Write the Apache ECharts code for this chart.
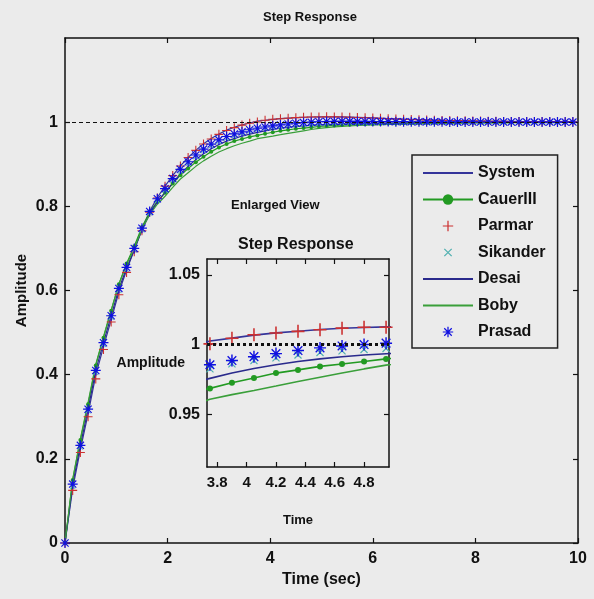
<!DOCTYPE html>
<html>
<head>
<meta charset="utf-8">
<script src="https://cdn.jsdelivr.net/npm/echarts@6/dist/echarts.min.js"></script>
<style>
  html, body { margin: 0; padding: 0; background: #ebebeb; }
  #main { width: 594px; height: 599px; }
</style>
</head>
<body>
<div id="main"></div>
<script>
// time grid (sec)
var time = [0, 0.15, 0.3, 0.45, 0.6, 0.75, 0.9, 1.05, 1.2, 1.35, 1.5, 1.65, 1.8, 1.95, 2.1, 2.25, 2.4, 2.55, 2.7, 2.85,
    3, 3.15, 3.3, 3.45, 3.6, 3.75, 3.9, 4.05, 4.2, 4.35, 4.5, 4.65, 4.8, 4.95, 5.1, 5.25, 5.4, 5.55, 5.7, 5.85,
    6, 6.15, 6.3, 6.45, 6.6, 6.75, 6.9, 7.05, 7.2, 7.35, 7.5, 7.65, 7.8, 7.95, 8.1, 8.25, 8.4, 8.55, 8.7, 8.85,
    9, 9.15, 9.3, 9.45, 9.6, 9.75, 9.9];

var system = [0, 0.13, 0.222, 0.307, 0.399, 0.466, 0.53, 0.596, 0.648, 0.696, 0.745, 0.788, 0.821, 0.848, 0.873, 0.896, 0.916, 0.933, 0.949, 0.961,
    0.972, 0.981, 0.988, 0.9935, 0.998, 1.0026, 1.0046, 1.0068, 1.0084, 1.0096, 1.0108, 1.0117, 1.0123, 1.0127, 1.0128, 1.0127, 1.0124, 1.012, 1.0114, 1.0107,
    1.01, 1.0093, 1.0086, 1.0079, 1.0072, 1.0066, 1.006, 1.0054, 1.0049, 1.0044, 1.004, 1.0036, 1.0032, 1.0029, 1.0026, 1.0023, 1.0021, 1.0019, 1.0017, 1.0015,
    1.0013, 1.0012, 1.0011, 1.001, 1.0009, 1.0008, 1.0007];
var cauer = [0, 0.15, 0.245, 0.33, 0.422, 0.488, 0.552, 0.615, 0.664, 0.705, 0.751, 0.786, 0.812, 0.832, 0.854, 0.874, 0.89, 0.905, 0.918, 0.93,
    0.94, 0.948, 0.955, 0.96, 0.965, 0.9685, 0.9725, 0.976, 0.9795, 0.9818, 0.9843, 0.986, 0.9878, 0.9897, 0.991, 0.9922, 0.9932, 0.994, 0.9947, 0.9953,
    0.9958, 0.9962, 0.9966, 0.9969, 0.9972, 0.9975, 0.9977, 0.9979, 0.9981, 0.9983, 0.9984, 0.9986, 0.9987, 0.9988, 0.9989, 0.999, 0.9991, 0.9991, 0.9992, 0.9993,
    0.9993, 0.9994, 0.9994, 0.9995, 0.9995, 0.9995, 0.9996];
var parmar = [0, 0.125, 0.215, 0.3, 0.39, 0.46, 0.525, 0.59, 0.643, 0.692, 0.742, 0.786, 0.82, 0.848, 0.873, 0.896, 0.916, 0.933, 0.948, 0.96,
    0.971, 0.98, 0.987, 0.993, 0.9975, 1.0005, 1.0046, 1.007, 1.0083, 1.0095, 1.0107, 1.0118, 1.0124, 1.0124, 1.0126, 1.0125, 1.0122, 1.0118, 1.0112, 1.0105,
    1.0098, 1.0091, 1.0084, 1.0077, 1.007, 1.0064, 1.0058, 1.0052, 1.0047, 1.0042, 1.0038, 1.0034, 1.0031, 1.0028, 1.0025, 1.0022, 1.002, 1.0018, 1.0016, 1.0014,
    1.0013, 1.0012, 1.0011, 1.001, 1.0009, 1.0008, 1.0007];
var sikander = [0, 0.135, 0.228, 0.314, 0.405, 0.472, 0.536, 0.6, 0.65, 0.696, 0.744, 0.784, 0.814, 0.838, 0.862, 0.884, 0.902, 0.918, 0.932, 0.944,
    0.954, 0.962, 0.968, 0.974, 0.979, 0.9825, 0.9862, 0.9885, 0.9905, 0.9925, 0.9943, 0.9955, 0.9965, 0.9972, 0.9978, 0.9983, 0.9987, 0.999, 0.9992, 0.9994,
    0.9995, 0.9996, 0.9996, 0.9997, 0.9997, 0.9997, 0.9998, 0.9998, 0.9998, 0.9998, 0.9999, 0.9999, 0.9999, 0.9999, 0.9999, 0.9999, 1, 1, 1, 1,
    1, 1, 1, 1, 1, 1, 1];
var desai = [0, 0.14, 0.232, 0.318, 0.41, 0.476, 0.54, 0.604, 0.653, 0.697, 0.744, 0.782, 0.81, 0.833, 0.856, 0.877, 0.895, 0.911, 0.925, 0.937,
    0.947, 0.955, 0.961, 0.967, 0.9715, 0.9757, 0.9795, 0.9828, 0.9855, 0.9878, 0.9897, 0.9912, 0.9925, 0.9934, 0.9942, 0.9949, 0.9955, 0.996, 0.9965, 0.9969,
    0.9972, 0.9975, 0.9978, 0.998, 0.9982, 0.9984, 0.9986, 0.9987, 0.9988, 0.9989, 0.999, 0.9991, 0.9992, 0.9993, 0.9993, 0.9994, 0.9994, 0.9995, 0.9995, 0.9996,
    0.9996, 0.9996, 0.9997, 0.9997, 0.9997, 0.9998, 0.9998];
var boby = [0, 0.152, 0.248, 0.334, 0.425, 0.49, 0.553, 0.615, 0.662, 0.7, 0.746, 0.78, 0.805, 0.824, 0.845, 0.865, 0.88, 0.895, 0.908, 0.919,
    0.929, 0.937, 0.944, 0.95, 0.955, 0.9607, 0.964, 0.967, 0.9702, 0.9735, 0.9765, 0.9795, 0.9825, 0.9852, 0.9872, 0.9888, 0.9901, 0.9912, 0.9921, 0.9929,
    0.9936, 0.9942, 0.9947, 0.9952, 0.9956, 0.996, 0.9963, 0.9966, 0.9969, 0.9972, 0.9974, 0.9976, 0.9978, 0.998, 0.9981, 0.9983, 0.9984, 0.9985, 0.9986, 0.9987,
    0.9988, 0.9989, 0.999, 0.999, 0.9991, 0.9992, 0.9992];
var prasad = [0, 0.14, 0.232, 0.318, 0.41, 0.476, 0.54, 0.605, 0.655, 0.7, 0.748, 0.788, 0.818, 0.842, 0.866, 0.888, 0.906, 0.922, 0.936, 0.948,
    0.958, 0.966, 0.972, 0.977, 0.982, 0.9855, 0.9885, 0.9913, 0.9935, 0.9957, 0.9976, 0.999, 1, 1.001, 1.0015, 1.0018, 1.0019, 1.0019, 1.0018, 1.0017,
    1.0015, 1.0014, 1.0013, 1.0012, 1.0011, 1.001, 1.0009, 1.0008, 1.0008, 1.0007, 1.0006, 1.0006, 1.0005, 1.0005, 1.0004, 1.0004, 1.0004, 1.0003, 1.0003, 1.0003,
    1.0002, 1.0002, 1.0002, 1.0002, 1.0001, 1.0001, 1.0001];

var names = ['System', 'CauerIII', 'Parmar', 'Sikander', 'Desai', 'Boby', 'Prasad'];
var mainTicksX = [0, 2, 4, 6, 8, 10];
var mainTicksY = [0, 0.2, 0.4, 0.6, 0.8, 1];
var insetTicksX = [3.8, 4, 4.2, 4.4, 4.6, 4.8];
var insetTicksY = [0.95, 1, 1.05];

var FONT = "'Liberation Sans Narrow', 'Liberation Sans', Arial, sans-serif";
var PLUS = 'path://M4.4,0H5.6V10H4.4Z M0,4.4H10V5.6H0Z';
var STAR = 'path://M4.4,0H5.6V10H4.4Z M0,4.4H10V5.6H0Z M1,1.8L1.8,1L9,8.2L8.2,9Z M8.2,1L9,1.8L1.8,9L1,8.2Z M3.8,3.8H6.2V6.2H3.8Z';

function pairs(vals) {
    return time.map(function (t, i) { return [t, vals[i]]; });
}

var styles = [
    {color: '#34349a', symbol: 'none', line: true},
    {color: '#229a22', symbol: 'circle', size: 4, insetSize: 6, line: true},
    {color: '#cc3030', symbol: PLUS, size: 9, insetSize: 13, line: false},
    {color: '#50b0b0', symbol: PLUS, rotate: 45, size: 7, insetSize: 10, line: false},
    {color: '#2a2a8c', symbol: 'none', line: true},
    {color: '#3a9f3a', symbol: 'none', line: true},
    {color: '#1010e0', symbol: STAR, size: 10, insetSize: 12, line: false}
];
var values = [system, cauer, parmar, sikander, desai, boby, prasad];

function axisCommon() {
    return {
        axisLine: {show: true, onZero: false, lineStyle: {color: '#111', width: 1.5}},
        axisTick: {show: true, inside: true, length: 5, lineStyle: {color: '#111', width: 1.2}},
        splitLine: {show: false},
        nameMoveOverlap: false
    };
}

function makeX(grid, min, max, ticks, pos, showLabel, fs) {
    var a = axisCommon();
    a.type = 'value'; a.gridIndex = grid; a.min = min; a.max = max; a.position = pos;
    a.axisTick.customValues = ticks;
    a.axisLabel = {show: showLabel, customValues: ticks, color: '#111', fontFamily: FONT, fontWeight: 'bold', fontSize: fs, margin: 8};
    return a;
}
function makeY(grid, min, max, ticks, pos, showLabel, fs) {
    var a = axisCommon();
    a.type = 'value'; a.gridIndex = grid; a.min = min; a.max = max; a.position = pos;
    a.axisTick.customValues = ticks;
    a.axisLabel = {show: showLabel, customValues: ticks, color: '#111', fontFamily: FONT, fontWeight: 'bold', fontSize: fs, margin: 7};
    return a;
}

var xMain = makeX(0, 0, 10, mainTicksX, 'bottom', true, 16);
xMain.name = 'Time (sec)'; xMain.nameLocation = 'middle'; xMain.nameGap = 29;
xMain.nameTextStyle = {color: '#111', fontFamily: FONT, fontWeight: 'bold', fontSize: 16};
var yMain = makeY(0, 0, 1.2, mainTicksY, 'left', true, 16);
yMain.name = 'Amplitude'; yMain.nameLocation = 'middle'; yMain.nameGap = 36;
yMain.nameTextStyle = {color: '#111', fontFamily: FONT, fontWeight: 'bold', fontSize: 15};

var xInset = makeX(1, 3.73, 4.97, insetTicksX, 'bottom', true, 15);
xInset.name = 'Time'; xInset.nameLocation = 'middle'; xInset.nameGap = 47;
xInset.nameTextStyle = {color: '#111', fontFamily: FONT, fontWeight: 'bold', fontSize: 13};
var yInset = makeY(1, 0.912, 1.0615, insetTicksY, 'left', true, 16);
yInset.name = 'Amplitude'; yInset.nameLocation = 'middle'; yInset.nameGap = 22; yInset.nameRotate = 0;
yInset.nameTextStyle = {color: '#111', fontFamily: FONT, fontWeight: 'bold', fontSize: 14};

var series = [];
names.forEach(function (n, i) {
    var st = styles[i];
    [0, 1].forEach(function (g) {
        var s = {
            name: n,
            type: 'line',
            xAxisIndex: g * 2,
            yAxisIndex: g * 2,
            data: pairs(values[i]),
            symbol: st.symbol,
            symbolSize: g === 0 ? st.size : st.insetSize,
            symbolRotate: st.rotate || 0,
            showSymbol: st.symbol !== 'none',
            showAllSymbol: true,
            clip: true,
            animation: false,
            silent: true,
            itemStyle: {color: st.color},
            lineStyle: st.line ? {color: st.color, width: g === 0 ? 1.2 : 1.6} : {color: st.color, width: 1, opacity: 0},
            emphasis: {disabled: true}
        };
        if (i === 0) {
            s.markLine = {
                silent: true, symbol: 'none', animation: false,
                label: {show: false},
                lineStyle: g === 0 ? {color: '#111', type: [4, 3], width: 1.2} : {color: '#111', type: [3, 3], width: 3},
                data: [{yAxis: 1}]
            };
        }
        series.push(s);
    });
});

// legend entries: line-only series get no marker
var legendData = names.map(function (n, i) {
    var item = {name: n};
    if (styles[i].symbol === 'none') {
        item.itemStyle = {opacity: 0};
    }
    return item;
});

var myChart = echarts.init(document.getElementById('main'), null, {renderer: 'canvas'});
var option = {
    backgroundColor: '#ebebeb',
    animation: false,
    title: [
        {text: 'Step Response', left: 305, textAlign: 'center', top: 6, textStyle: {color: '#111', fontFamily: FONT, fontWeight: 'bold', fontSize: 13}},
        {text: 'Enlarged View', left: 226, top: 194, textStyle: {color: '#111', fontFamily: FONT, fontWeight: 'bold', fontSize: 13}},
        {text: 'Step Response', left: 233, top: 232, textStyle: {color: '#111', fontFamily: FONT, fontWeight: 'bold', fontSize: 16}}
    ],
    grid: [
        {left: 65, top: 38, right: 16, bottom: 56, outerBoundsMode: 'none', containLabel: false},
        {left: 207, top: 259, width: 182, height: 208, outerBoundsMode: 'none', containLabel: false,
            show: true, backgroundColor: '#ebebeb', borderWidth: 0}
    ],
    xAxis: [
        xMain,
        makeX(0, 0, 10, mainTicksX, 'top', false, 16),
        xInset,
        makeX(1, 3.73, 4.97, insetTicksX, 'top', false, 15)
    ],
    yAxis: [
        yMain,
        makeY(0, 0, 1.2, mainTicksY, 'right', false, 16),
        yInset,
        makeY(1, 0.912, 1.0615, insetTicksY, 'right', false, 16)
    ],
    legend: {
        orient: 'vertical',
        left: 412, top: 155,
        padding: [10, 12, 8, 10],
        itemWidth: 50, itemHeight: 13, itemGap: 10.5,
        backgroundColor: '#ebebeb',
        borderColor: '#222', borderWidth: 1.5,
        selectedMode: false,
        data: legendData,
        textStyle: {color: '#111', fontFamily: FONT, fontWeight: 'bold', fontSize: 16}
    },
    series: series
};
myChart.setOption(option);
window.addEventListener('resize', function () {
    myChart.resize();
});
</script>
</body>
</html>
